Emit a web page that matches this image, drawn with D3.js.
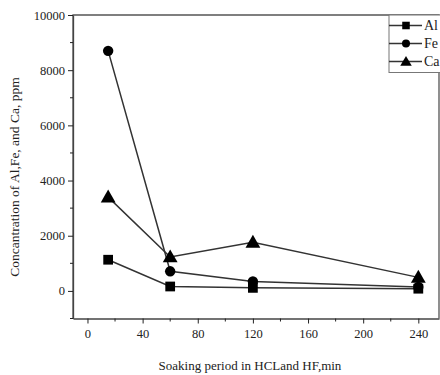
<!DOCTYPE html>
<html>
<head>
<meta charset="utf-8">
<script src="https://cdn.jsdelivr.net/npm/d3@7"></script>
<style>
  body { margin: 0; background: #fff; }
  svg, svg text { font-family: "Times New Roman", Times, Tinos, "Liberation Serif", serif; }
</style>
</head>
<body>
<svg id="mainsvg" width="440" height="375"></svg>
<script>
// data
const times = [15, 60, 120, 240];
const alValues = [1130, 160, 110, 80];
const feValues = [8700, 710, 340, 140];
const caValues = [3400, 1230, 1760, 490];
const seriesNames = ['Al', 'Fe', 'Ca'];
const seriesShapes = ['square', 'circle', 'triangle'];
const xTicks = [0, 40, 80, 120, 160, 200, 240];
const yTicks = [0, 2000, 4000, 6000, 8000, 10000];

const svg = d3.select('#mainsvg');
const ink = '#222';

const xScale = d3.scaleLinear().domain([-10.5, 255]).range([73, 439]);
const yScale = d3.scaleLinear().domain([-1000, 10000]).range([318.5, 15]);

const series = [alValues, feValues, caValues].map((vals, i) => ({
    name: seriesNames[i],
    shape: seriesShapes[i],
    points: vals.map((v, j) => ({x: times[j], y: v}))
}));

// frame (left, top, right edges)
svg.append('path')
    .attr('d', `M${xScale.range()[0]},${yScale.range()[0]}V${yScale.range()[1]}H${xScale.range()[1]}V${yScale.range()[0]}`)
    .attr('fill', 'none')
    .attr('stroke', '#555')
    .attr('stroke-width', 1.3);

// x axis
const xAxisG = svg.append('g')
    .attr('transform', `translate(0,${yScale.range()[0]})`)
    .call(d3.axisBottom(xScale).tickValues(xTicks).tickSize(5).tickSizeOuter(0).tickPadding(6).tickFormat(d3.format('d')));
xAxisG.selectAll('g.minor').data(d3.range(20, 260, 40)).enter().append('line')
    .attr('x1', d => xScale(d)).attr('x2', d => xScale(d))
    .attr('y1', 0).attr('y2', 3)
    .attr('stroke', ink);

// y axis
const yAxisG = svg.append('g')
    .attr('transform', `translate(${xScale.range()[0]},0)`)
    .call(d3.axisLeft(yScale).tickValues(yTicks).tickSize(5).tickSizeOuter(0).tickPadding(3).tickFormat(d3.format('d')));
yAxisG.selectAll('g.minor').data(d3.range(-1000, 10000, 2000)).enter().append('line')
    .attr('x1', 0).attr('x2', -3)
    .attr('y1', d => yScale(d)).attr('y2', d => yScale(d))
    .attr('stroke', ink);

[xAxisG, yAxisG].forEach(g => {
    g.attr('font-family', null);
    g.select('.domain').attr('stroke', '#444').attr('stroke-width', 1.3);
    g.selectAll('.tick line').attr('stroke', ink);
    g.selectAll('.tick text').attr('fill', ink)
        .style('font-size', '12.5px');
});

// axis titles
svg.append('text')
    .attr('x', 250).attr('y', 370)
    .attr('text-anchor', 'middle')
    .attr('fill', ink)
    .style('font-size', '13px')
    .text('Soaking period in HCLand HF,min');

svg.append('text')
    .attr('transform', 'translate(19,177) rotate(-90)')
    .attr('text-anchor', 'middle')
    .attr('fill', ink)
    .style('font-size', '13.5px')
    .text('Concantration of Al,Fe, and Ca, ppm');

// symbols
const symbolType = {square: d3.symbolSquare, circle: d3.symbolCircle, triangle: d3.symbolTriangle};
const symbolSize = {square: 95, circle: 85, triangle: 95};

const line = d3.line().x(d => xScale(d.x)).y(d => yScale(d.y));

const groups = svg.selectAll('.series').data(series).enter().append('g').attr('class', 'series');
groups.append('path')
    .attr('d', d => line(d.points))
    .attr('fill', 'none')
    .attr('stroke', '#333')
    .attr('stroke-width', 1.5);
groups.selectAll('path.mark').data(d => d.points.map(p => ({...p, shape: d.shape}))).enter()
    .append('path')
    .attr('class', 'mark')
    .attr('transform', d => `translate(${xScale(d.x)},${yScale(d.y) + (d.shape === 'triangle' ? 1 : 0)})`)
    .attr('d', d => d3.symbol().type(symbolType[d.shape]).size(symbolSize[d.shape])())
    .attr('fill', '#000');

// legend
const legend = svg.append('g').attr('transform', 'translate(389,15)');
legend.append('rect')
    .attr('x', 0).attr('y', 0).attr('width', 70).attr('height', 57.5)
    .attr('fill', '#fff').attr('stroke', '#777').attr('stroke-width', 1);
const rows = legend.selectAll('.row').data(series).enter().append('g')
    .attr('transform', (d, i) => `translate(0,${10.5 + i * 18})`);
rows.append('line')
    .attr('x1', 0).attr('x2', 33).attr('y1', 0).attr('y2', 0)
    .attr('stroke', '#333').attr('stroke-width', 1.5);
rows.append('path')
    .attr('transform', d => `translate(17,${d.shape === 'triangle' ? 1 : 0})`)
    .attr('d', d => d3.symbol().type(symbolType[d.shape]).size(symbolSize[d.shape] * 0.6)())
    .attr('fill', '#000');
rows.append('text')
    .attr('x', 35).attr('y', 4.5)
    .attr('fill', ink)
    .style('font-size', '14px')
    .text(d => d.name);
</script>
</body>
</html>
